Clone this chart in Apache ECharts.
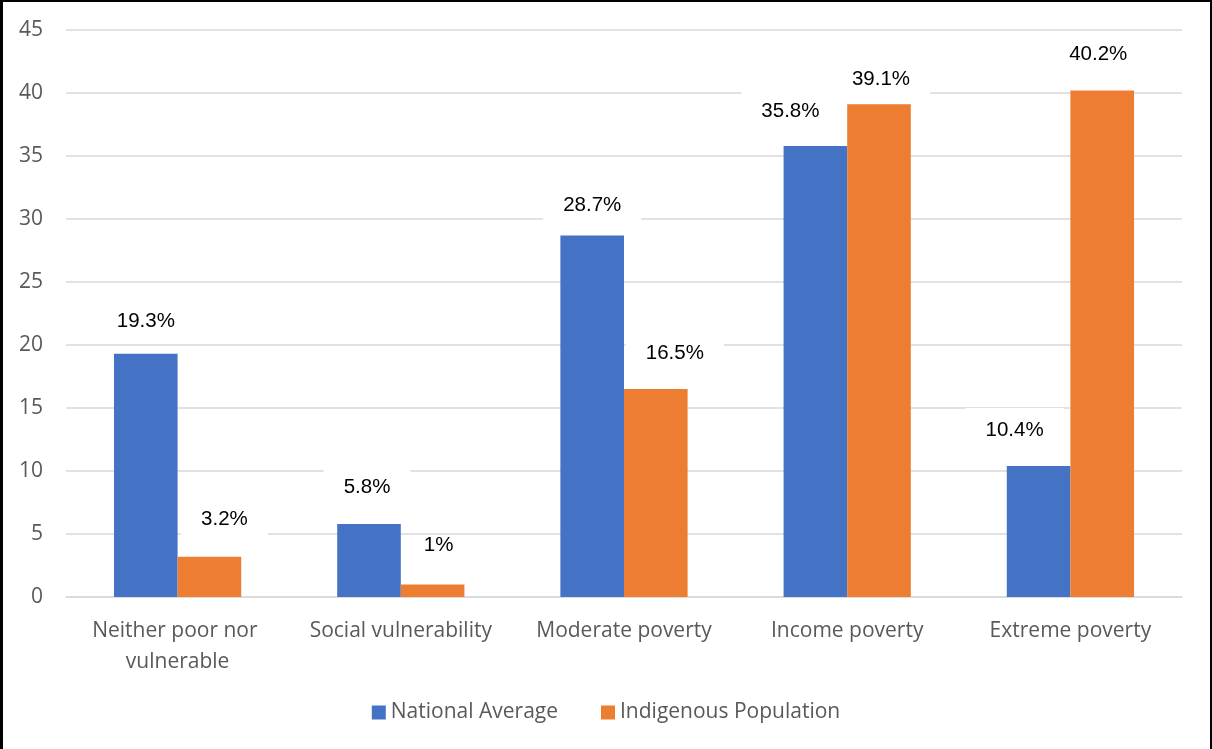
<!DOCTYPE html>
<html>
<head>
<meta charset="utf-8">
<title>Poverty and vulnerability: national average vs indigenous population</title>
<script src="https://cdn.jsdelivr.net/npm/echarts@6/dist/echarts.min.js"></script>
<style>
  html, body { margin: 0; padding: 0; background: #fff; }
  #wrap { position: relative; width: 1212px; height: 749px; }
  #chart { position: absolute; left: 0; top: 0; width: 1212px; height: 749px; }
  #frame {
    position: absolute; left: 0; top: 0; width: 1212px; height: 749px;
    box-sizing: border-box; pointer-events: none;
    border-top: 2px solid #000; border-left: 3px solid #000; border-right: 2px solid #000;
  }
</style>
</head>
<body>
<div id="wrap">
  <div id="chart"></div>
  <div id="frame"></div>
</div>
<script>
// Share of population in each group (%)
const categories = [
  'Neither poor nor vulnerable',
  'Social vulnerability',
  'Moderate poverty',
  'Income poverty',
  'Extreme poverty'
];
const seriesNames = ['National Average', 'Indigenous Population'];
const nationalAverage = [19.3, 5.8, 28.7, 35.8, 10.4];
const indigenousPopulation = [3.2, 1, 16.5, 39.1, 40.2];

// Value axis range
const yMin = 0;
const yMax = 45;
const yStep = 5;

// Per-label nudges [dx, dy] in px so neighbouring labels do not collide
const nationalLabelShift = [[0, 5], [-2, 0], [0, 7], [-25, 2], [-24, 1]];
const indigenousLabelShift = [[15, 0], [6, -2], [19, 1], [2, 12], [-4, 1]];
// Labels drawn without the white backing box
const indigenousPlainLabel = [false, true, false, false, false];

const colors = ['#4472C4', '#ED7D31'];
const axisFont = '"Open Sans", Lato, sans-serif';

function buildItems(values, shifts, plain) {
  return values.map((v, i) => ({
    value: v,
    label: {
      offset: shifts[i],
      backgroundColor: plain && plain[i] ? 'transparent' : '#fff'
    }
  }));
}

const valueLabel = {
  show: true,
  position: 'top',
  distance: 15,
  formatter: '{c}%',
  color: '#000',
  fontFamily: '"Liberation Sans", Arial, sans-serif',
  fontSize: 20.5,
  lineHeight: 20,
  backgroundColor: '#fff',
  padding: [12, 20]
};

const chart = echarts.init(document.getElementById('chart'), null, { renderer: 'canvas' });

chart.setOption({
  animation: false,
  backgroundColor: '#fff',
  color: colors,
  grid: { left: 66, right: 30, top: 30, bottom: 152, containLabel: false },
  legend: {
    data: seriesNames,
    bottom: 21,
    left: 'center',
    icon: 'rect',
    itemWidth: 14,
    itemHeight: 14,
    itemGap: 43,
    textStyle: { color: '#595959', fontFamily: axisFont, fontSize: 21 }
  },
  xAxis: {
    type: 'category',
    data: categories,
    axisTick: { show: false },
    axisLine: { show: true, lineStyle: { color: '#d9d9d9', width: 1.5 } },
    axisLabel: {
      color: '#595959',
      fontFamily: axisFont,
      fontSize: 21,
      lineHeight: 31,
      margin: 19,
      width: 210,
      overflow: 'break',
      interval: 0
    }
  },
  yAxis: {
    type: 'value',
    min: yMin,
    max: yMax,
    interval: yStep,
    axisLine: { show: false },
    axisTick: { show: false },
    splitLine: { lineStyle: { color: '#d9d9d9', width: 1.5 } },
    axisLabel: {
      color: '#595959',
      fontFamily: axisFont,
      fontSize: 21,
      margin: 23
    }
  },
  series: [
    {
      name: seriesNames[0],
      type: 'bar',
      barGap: '0%',
      barCategoryGap: '43%',
      label: valueLabel,
      data: buildItems(nationalAverage, nationalLabelShift, null)
    },
    {
      name: seriesNames[1],
      type: 'bar',
      barGap: '0%',
      barCategoryGap: '43%',
      label: valueLabel,
      data: buildItems(indigenousPopulation, indigenousLabelShift, indigenousPlainLabel)
    }
  ]
});
</script>
</body>
</html>
